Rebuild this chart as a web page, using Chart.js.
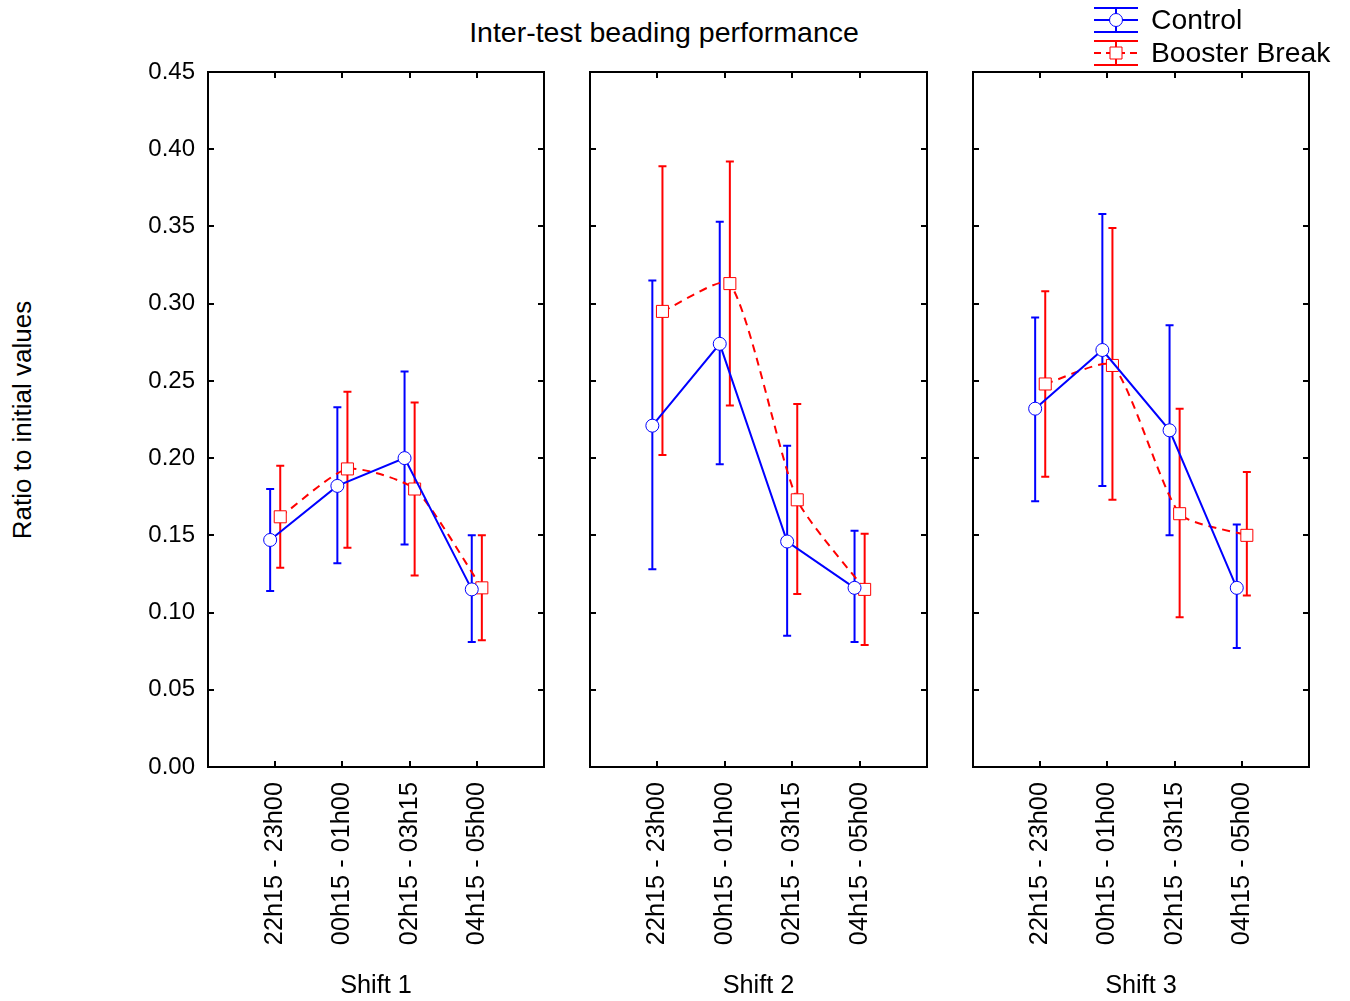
<!DOCTYPE html>
<html>
<head>
<meta charset="utf-8">
<script src="https://cdn.jsdelivr.net/npm/chart.js@4/dist/chart.umd.min.js"></script>
<style>
  body { margin: 0; background: #fff; width: 1350px; height: 1001px; overflow: hidden; position: relative; font-family: "Liberation Sans", Arial, sans-serif; }
  canvas { position: absolute; left: 0; top: 0; }
  .title { position: absolute; left: 0; width: 1328px; top: 16px; text-align: center; font-size: 28.5px; color: #000; }
  .ytitle { position: absolute; left: 22px; top: 420px; transform: translate(-50%, -50%) rotate(-90deg); white-space: nowrap; font-size: 26px; color: #000; }
</style>
</head>
<body>
<div class="title">Inter-test beading performance</div>
<div class="ytitle">Ratio to initial values</div>
<canvas id="p0" width="1350" height="1001"></canvas>
<canvas id="p1" width="1350" height="1001"></canvas>
<canvas id="p2" width="1350" height="1001"></canvas>
<script>
// ─── DATA ────────────────────────────────────────────────────────────────
const categories = ['22h15 - 23h00', '00h15 - 01h00', '02h15 - 03h15', '04h15 - 05h00'];
const shifts = ['Shift 1', 'Shift 2', 'Shift 3'];
const yTicks = [0, 0.05, 0.10, 0.15, 0.20, 0.25, 0.30, 0.35, 0.40, 0.45];

const controlMean = [[0.147, 0.182, 0.200, 0.115], [0.221, 0.274, 0.146, 0.116], [0.232, 0.270, 0.218, 0.116]];
const controlHigh = [[0.180, 0.233, 0.256, 0.150], [0.315, 0.353, 0.208, 0.153], [0.291, 0.358, 0.286, 0.157]];
const controlLow  = [[0.114, 0.132, 0.144, 0.081], [0.128, 0.196, 0.085, 0.081], [0.172, 0.182, 0.150, 0.077]];

const boosterMean = [[0.162, 0.193, 0.180, 0.116], [0.295, 0.313, 0.173, 0.115], [0.248, 0.260, 0.164, 0.150]];
const boosterHigh = [[0.195, 0.243, 0.236, 0.150], [0.389, 0.392, 0.235, 0.151], [0.308, 0.349, 0.232, 0.191]];
const boosterLow  = [[0.129, 0.142, 0.124, 0.082], [0.202, 0.234, 0.112, 0.079], [0.188, 0.173, 0.097, 0.111]];

// ─── LAYOUT ──────────────────────────────────────────────────────────────
const W = 1350, H = 1001;
const panelX = [[208, 544], [590, 927], [973, 1309]];
const plotTop = 72, plotBottom = 767;
const yAxisW = 100;
const BLUE = '#0000ff', RED = '#ff0000';
const FONT = '"Liberation Sans", Arial, sans-serif';
const dodge = 0.075;

function points(means, lows, highs, shift) {
  return means.map((v, i) => ({ x: i + 1 + shift, y: v, lo: lows[i], hi: highs[i] }));
}

// error bars sit under the markers
const errorBars = {
  id: 'errorBars',
  beforeDatasetsDraw(chart) {
    const { ctx, scales: { x, y } } = chart;
    ctx.save();
    chart.data.datasets.forEach(ds => {
      ctx.strokeStyle = ds.borderColor;
      ctx.lineWidth = 2;
      ctx.setLineDash([]);
      ds.data.forEach(p => {
        const px = x.getPixelForValue(p.x);
        const top = y.getPixelForValue(p.hi), bot = y.getPixelForValue(p.lo);
        ctx.beginPath();
        ctx.moveTo(px, top); ctx.lineTo(px, bot);
        ctx.moveTo(px - 4, top); ctx.lineTo(px + 4, top);
        ctx.moveTo(px - 4, bot); ctx.lineTo(px + 4, bot);
        ctx.stroke();
      });
    });
    ctx.restore();
  }
};

// box frame with inward ticks on all four sides
const frame = {
  id: 'frame',
  afterDraw(chart) {
    const { ctx, chartArea: a, scales: { x, y } } = chart;
    ctx.save();
    ctx.strokeStyle = '#000';
    ctx.lineWidth = 2;
    ctx.strokeRect(a.left, a.top, a.right - a.left, a.bottom - a.top);
    ctx.beginPath();
    yTicks.forEach(v => {
      const py = Math.round(y.getPixelForValue(v));
      ctx.moveTo(a.left, py); ctx.lineTo(a.left + 6, py);
      ctx.moveTo(a.right, py); ctx.lineTo(a.right - 6, py);
    });
    categories.forEach((c, i) => {
      const px = Math.round(x.getPixelForValue(i + 1));
      ctx.moveTo(px, a.top); ctx.lineTo(px, a.top + 6);
      ctx.moveTo(px, a.bottom); ctx.lineTo(px, a.bottom - 6);
    });
    ctx.stroke();
    ctx.restore();
  }
};

const legendBox = {
  id: 'legendBox',
  afterDraw(chart) {
    const ctx = chart.ctx;
    const rows = [
      { label: 'Control', color: BLUE, cy: 20, dash: [], marker: 'circle' },
      { label: 'Booster Break', color: RED, cy: 53, dash: [7, 5], marker: 'rect' }
    ];
    const x0 = 1094, x1 = 1138, xc = 1116;
    ctx.save();
    rows.forEach(r => {
      ctx.strokeStyle = r.color;
      ctx.lineWidth = 2;
      ctx.setLineDash([]);
      ctx.beginPath();
      ctx.moveTo(x0, r.cy - 12); ctx.lineTo(x1, r.cy - 12);
      ctx.moveTo(x0, r.cy + 12); ctx.lineTo(x1, r.cy + 12);
      ctx.moveTo(xc, r.cy - 12); ctx.lineTo(xc, r.cy + 12);
      ctx.stroke();
      ctx.setLineDash(r.dash);
      ctx.beginPath();
      ctx.moveTo(x0, r.cy); ctx.lineTo(x1, r.cy);
      ctx.stroke();
      ctx.setLineDash([]);
      ctx.fillStyle = '#fff';
      ctx.lineWidth = 1;
      ctx.beginPath();
      if (r.marker === 'circle') ctx.arc(xc, r.cy, 6.5, 0, Math.PI * 2);
      else ctx.rect(xc - 6, r.cy - 6, 12, 12);
      ctx.fill(); ctx.stroke();
      ctx.fillStyle = '#000';
      ctx.font = '28.3px ' + FONT;
      ctx.textBaseline = 'middle';
      ctx.fillText(r.label, 1151, r.cy + 1);
    });
    ctx.restore();
  }
};

const charts = {};

function makePanel(k) {
  const [left, right] = panelX[k];
  const showY = k === 0;
  const plugins = [errorBars, frame];
  if (k === 2) plugins.push(legendBox);
  charts[k] = new Chart(document.getElementById('p' + k), {
    type: 'line',
    data: {
      datasets: [
        {
          label: 'Control',
          data: points(controlMean[k], controlLow[k], controlHigh[k], -dodge),
          borderColor: BLUE, borderWidth: 2, tension: 0,
          pointStyle: 'circle', pointRadius: 6.5, pointBorderWidth: 1,
          pointBackgroundColor: '#fff', pointBorderColor: BLUE
        },
        {
          label: 'Booster Break',
          data: points(boosterMean[k], boosterLow[k], boosterHigh[k], dodge),
          borderColor: RED, borderWidth: 2, borderDash: [8, 6], tension: 0.2,
          pointStyle: 'rect', pointRadius: 8.5, pointBorderWidth: 1,
          pointBackgroundColor: '#fff', pointBorderColor: RED
        }
      ]
    },
    options: {
      responsive: false, animation: false,
      layout: { padding: { left: showY ? left - yAxisW : left, right: W - right, top: plotTop, bottom: 0 } },
      plugins: { legend: { display: false }, tooltip: { enabled: false } },
      scales: {
        x: {
          type: 'linear', min: 0, max: 5,
          grid: { display: false, drawTicks: false },
          border: { display: false },
          afterBuildTicks: s => { s.ticks = categories.map((c, i) => ({ value: i + 1 })); },
          afterFit: s => { s.height = H - plotBottom; },
          ticks: {
            autoSkip: false, minRotation: 90, maxRotation: 90, padding: 15,
            color: '#000', font: { family: FONT, size: 25.3 },
            callback: v => categories[v - 1]
          },
          title: { display: true, text: shifts[k], color: '#000', padding: 0, font: { family: FONT, size: 25.3 } }
        },
        y: {
          min: 0, max: 0.45,
          grid: { display: false, drawTicks: false },
          border: { display: false },
          afterBuildTicks: s => { s.ticks = yTicks.map(v => ({ value: v })); },
          afterFit: s => { s.width = showY ? yAxisW : 0; },
          ticks: {
            display: showY, padding: 13,
            color: '#000', font: { family: FONT, size: 24 },
            callback: v => v.toFixed(2)
          }
        }
      }
    },
    plugins
  });
}

[0, 1, 2].forEach(makePanel);
</script>
</body>
</html>
